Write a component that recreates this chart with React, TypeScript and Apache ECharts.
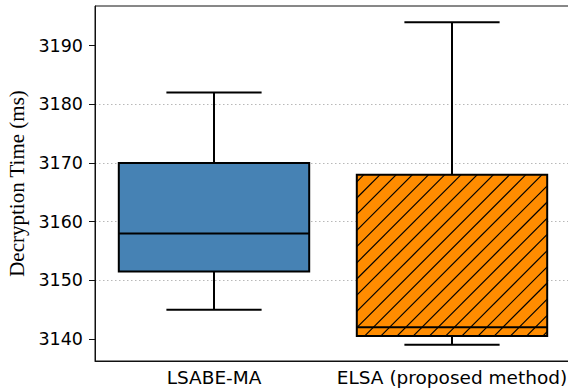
import React, { useEffect, useRef } from "react";
import * as echarts from "echarts";

const categories = ["LSABE-MA", "ELSA (proposed method)"];
const whiskerLow = [3145, 3139];
const quartile1 = [3151.5, 3140.5];
const medians = [3158, 3142];
const quartile3 = [3170, 3168];
const whiskerHigh = [3182, 3194];
const yTicks = [3140, 3150, 3160, 3170, 3180, 3190];

const boxColors = ["#4682B4", "#FF8C00"];
const hatched = [false, true];

export default function App() {
  const ref = useRef<HTMLDivElement>(null);
  useEffect(() => {
    document.body.style.margin = "0";
    const chart = echarts.init(ref.current!, null, { renderer: "svg" });
    const lo = Math.min(...whiskerLow);
    const hi = Math.max(...whiskerHigh);
    const pad = (hi - lo) * 0.05;
    const data = categories.map((_, i) => [
      i,
      whiskerLow[i],
      quartile1[i],
      medians[i],
      quartile3[i],
      whiskerHigh[i],
    ]);
    const axisColor = "#111";
    chart.setOption({
      animation: false,
      grid: {
        left: 95,
        top: 6,
        width: 476,
        bottom: 31,
        show: true,
        borderColor: axisColor,
        borderWidth: 1,
        containLabel: false,
        outerBoundsMode: "none",
      },
      xAxis: {
        type: "category",
        data: categories,
        axisLine: { lineStyle: { color: axisColor, width: 1 } },
        axisTick: { alignWithLabel: true, length: 6, lineStyle: { color: axisColor } },
        axisLabel: {
          interval: 0,
          hideOverlap: false,
          fontFamily: "DejaVu Sans",
          fontSize: 18.5,
          color: "#000",
          margin: 7,
        },
        splitLine: { show: false },
      },
      yAxis: {
        type: "value",
        min: lo - pad,
        max: hi + pad,
        axisLine: { show: true, lineStyle: { color: axisColor, width: 1 } },
        axisTick: { show: true, length: 6, customValues: yTicks, lineStyle: { color: axisColor } },
        axisLabel: {
          customValues: yTicks,
          formatter: (v: number) => String(Math.round(v)),
          fontFamily: "DejaVu Sans",
          fontSize: 17.5,
          color: "#000",
          margin: 12,
        },
        splitLine: {
          show: true,
          showMinLine: false,
          showMaxLine: false,
          lineStyle: { color: "#b8b8b8", type: [1.5, 2.5], width: 1 },
        },
        name: "Decryption Time (ms)",
        nameLocation: "middle",
        nameGap: 51,
        nameTextStyle: { fontFamily: "Liberation Serif", fontSize: 21, color: "#000" },
      },
      series: [
        {
          type: "custom",
          data,
          encode: { x: 0, y: [1, 2, 3, 4, 5] },
          renderItem: (params: any, api: any) => {
            const idx = api.value(0);
            const cx = api.coord([idx, api.value(3)])[0];
            const yLow = api.coord([idx, api.value(1)])[1];
            const yQ1 = api.coord([idx, api.value(2)])[1];
            const yMed = api.coord([idx, api.value(3)])[1];
            const yQ3 = api.coord([idx, api.value(4)])[1];
            const yHigh = api.coord([idx, api.value(5)])[1];
            const band = api.size([1, 0])[0];
            const bw = band * 0.8;
            const cw = bw / 2;
            const x0 = cx - bw / 2;
            const x1 = cx + bw / 2;
            const ls = { stroke: "#000", lineWidth: 2, fill: null };
            const children: any[] = [];
            children.push({ type: "line", shape: { x1: cx, y1: yQ3, x2: cx, y2: yHigh }, style: ls });
            children.push({ type: "line", shape: { x1: cx, y1: yQ1, x2: cx, y2: yLow }, style: ls });
            children.push({ type: "line", shape: { x1: cx - cw / 2, y1: yHigh, x2: cx + cw / 2, y2: yHigh }, style: ls });
            children.push({ type: "line", shape: { x1: cx - cw / 2, y1: yLow, x2: cx + cw / 2, y2: yLow }, style: ls });
            children.push({
              type: "rect",
              shape: { x: x0, y: yQ3, width: bw, height: yQ1 - yQ3 },
              style: { fill: boxColors[idx], stroke: null },
            });
            if (hatched[idx]) {
              const step = 16.2;
              const phase = 4;
              const y0 = yQ3;
              const y1 = yQ1;
              let c = Math.ceil((x0 + y0 - phase) / step) * step + phase;
              for (; c <= x1 + y1; c += step) {
                const xa = Math.max(x0, c - y1);
                const xb = Math.min(x1, c - y0);
                if (xb > xa) {
                  children.push({
                    type: "line",
                    shape: { x1: xa, y1: c - xa, x2: xb, y2: c - xb },
                    style: { stroke: "#000", lineWidth: 1.2, fill: null },
                  });
                }
              }
            }
            children.push({ type: "line", shape: { x1: x0, y1: yMed, x2: x1, y2: yMed }, style: ls });
            children.push({
              type: "rect",
              shape: { x: x0, y: yQ3, width: bw, height: yQ1 - yQ3 },
              style: { fill: null, stroke: "#000", lineWidth: 2 },
            });
            return { type: "group", children };
          },
        },
      ],
    });
    return () => chart.dispose();
  }, []);
  return <div ref={ref} style={{ width: 568, height: 392 }} />;
}
